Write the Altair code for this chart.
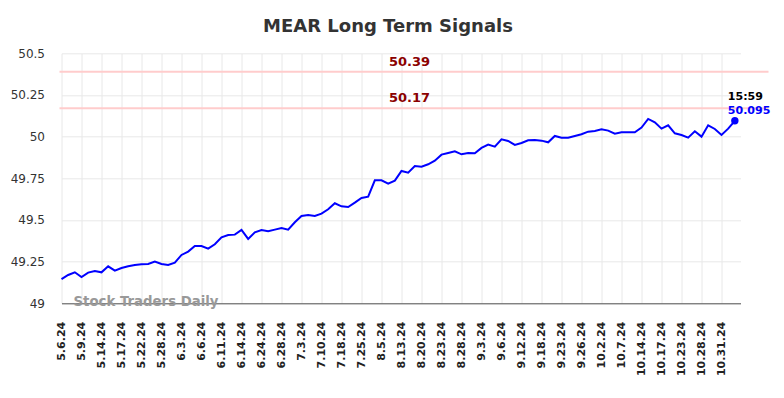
import altair as alt
import pandas as pd

values = [
    49.145, 49.17, 49.186, 49.158, 49.184, 49.194, 49.186, 49.222, 49.196, 49.212,
    49.222, 49.23, 49.234, 49.236, 49.25, 49.236, 49.23, 49.244, 49.29, 49.31,
    49.344, 49.344, 49.328, 49.354, 49.396, 49.41, 49.412, 49.44, 49.386, 49.426,
    49.44, 49.432, 49.442, 49.452, 49.442, 49.486, 49.524, 49.53, 49.524, 49.538,
    49.564, 49.60, 49.582, 49.578, 49.604, 49.632, 49.64, 49.738, 49.738, 49.718,
    49.736, 49.794, 49.784, 49.824, 49.82, 49.834, 49.856, 49.892, 49.902, 49.912,
    49.894, 49.902, 49.90, 49.932, 49.952, 49.94, 49.984, 49.974, 49.95, 49.962,
    49.978, 49.98, 49.976, 49.966, 50.004, 49.994, 49.994, 50.004, 50.014, 50.03,
    50.034, 50.044, 50.036, 50.018, 50.026, 50.026, 50.026, 50.054, 50.106, 50.086,
    50.048, 50.068, 50.02, 50.01, 49.994, 50.032, 50.0, 50.068, 50.046, 50.01,
    50.048, 50.095,
]

tick_labels = [
    "5.6.24", "5.9.24", "5.14.24", "5.17.24", "5.22.24", "5.28.24", "6.3.24", "6.6.24",
    "6.11.24", "6.14.24", "6.24.24", "6.28.24", "7.3.24", "7.10.24", "7.18.24", "7.25.24",
    "8.5.24", "8.13.24", "8.20.24", "8.23.24", "8.28.24", "9.3.24", "9.6.24", "9.12.24",
    "9.18.24", "9.23.24", "9.26.24", "10.2.24", "10.7.24", "10.14.24", "10.17.24",
    "10.23.24", "10.28.24", "10.31.24",
]
tick_step = 3
y_ticks = [49, 49.25, 49.5, 49.75, 50, 50.25, 50.5]

levels = [50.39, 50.17]
last_time = "15:59"

FONT = "DejaVu Sans"
W, H = 679, 250

df = pd.DataFrame({"i": list(range(len(values))), "v": values})
last = df.tail(1).copy()
last["time"] = last_time
last["label"] = [f"{values[-1]:.3f}"]
lv = pd.DataFrame({"level": levels, "label": [f"{l:.2f}" for l in levels]})

tick_vals = [k * tick_step for k in range(len(tick_labels))]
label_expr = "[" + ",".join(f"'{t}'" for t in tick_labels) + f"][round(datum.value/{tick_step})]"

xscale = alt.Scale(domain=[0, 101.85], nice=False, zero=False)
yscale = alt.Scale(domain=[49, 50.5], nice=False, zero=False)

xaxis = alt.Axis(values=tick_vals, labelExpr=label_expr, labelAngle=-90,
                 labelFont=FONT, labelFontSize=11, labelFontWeight="bold",
                 labelColor="#222", labelPadding=18, ticks=False,
                 domain=True, domainColor="#555", domainWidth=1,
                 grid=True, gridColor="#e8e8e8", labelOverlap=False,
                 labelBound=False, labelFlush=False)
yaxis = alt.Axis(values=y_ticks, format=".6~g",
                 labelFont=FONT, labelFontSize=12, labelColor="#333",
                 labelPadding=17, ticks=False, domain=False,
                 grid=True, gridColor="#e8e8e8")

X = alt.X("i:Q", scale=xscale, title=None, axis=xaxis)
Y = alt.Y("v:Q", scale=yscale, title=None, axis=yaxis)
YL = alt.Y("level:Q", scale=yscale, title=None, axis=yaxis)

line = alt.Chart(df).mark_line(color="#0000ff", strokeWidth=2).encode(x=X, y=Y)

rules = alt.Chart(lv).mark_rule(color="#ffcccc", strokeWidth=2).encode(
    y=YL, x=alt.value(-2), x2=alt.value(707),
)

level_text = alt.Chart(lv).mark_text(
    font=FONT, fontSize=13, fontWeight="bold", color="#8b0000", baseline="bottom", dy=-3
).encode(y=YL, x=alt.value(348), text="label:N")

dot = alt.Chart(last).mark_circle(color="#0000ff", size=55, opacity=1).encode(x=X, y=Y)

time_text = alt.Chart(last).mark_text(
    font=FONT, fontSize=11, fontWeight="bold", color="#000", align="left",
    baseline="bottom", dx=-7, dy=-19
).encode(x=X, y=Y, text="time:N")

val_text = alt.Chart(last).mark_text(
    font=FONT, fontSize=11, fontWeight="bold", color="#0000ff", align="left",
    baseline="bottom", dx=-7, dy=-5
).encode(x=X, y=Y, text="label:N")

watermark = alt.Chart(lv.head(1)).mark_text(
    font=FONT, fontSize=13.3, fontWeight="bold", color="#999", align="left", baseline="middle"
).encode(x=alt.value(12), y=alt.value(249), text=alt.value("Stock Traders Daily"))

chart = alt.layer(rules, line, level_text, dot, time_text, val_text, watermark).properties(
    width=W, height=H,
    title=alt.TitleParams("MEAR Long Term Signals", font=FONT, fontSize=18,
                          fontWeight="bold", color="#333", anchor="middle", dx=-13, offset=11),
    autosize=alt.AutoSizeParams(type="none"),
    padding={"left": 53.5, "top": 45.3, "right": 35.5, "bottom": 86.7},
).configure_view(stroke=None)

chart.save("out.html", embed_options={"renderer": "svg", "actions": False})
